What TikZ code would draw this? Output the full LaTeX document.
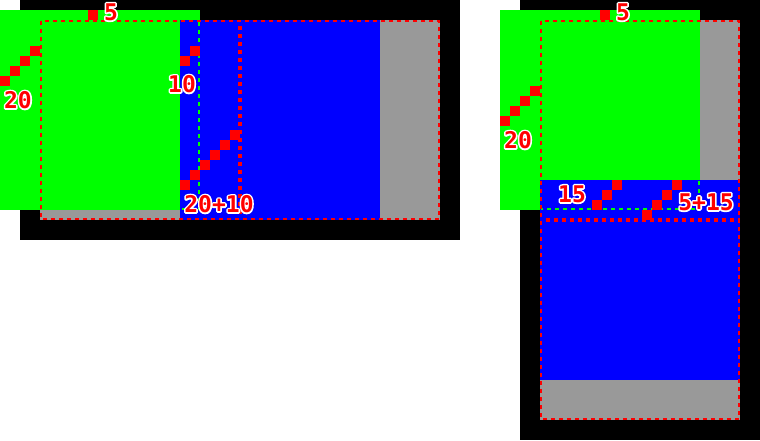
\documentclass[tikz,border=0pt]{standalone}
\usepackage{fontspec}
\newfontfamily\pixfont{DejaVu Sans Mono}
\definecolor{labred}{HTML}{FF0000}
\definecolor{boxgreen}{HTML}{00FF00}
\definecolor{boxblue}{HTML}{0000FF}
\definecolor{boxgray}{HTML}{999999}
\newcommand\strokeon{\special{pdf:literal direct 3.2 w 1 j 1 Tr}}
\newcommand\strokeoff{\special{pdf:literal direct 0 Tr}}
\tikzset{
  lbl/.style={text=labred, font=\pixfont\bfseries\fontsize{23}{23}\selectfont, inner sep=0pt},
  halo/.style={lbl, text=white},
  px/.style={fill=labred},
  border/.style={draw=labred, line width=2pt, dash pattern=on 4pt off 4pt},
  dotline/.style={draw=labred, line width=3.5pt, dash pattern=on 3.5pt off 4.5pt},
  hidden/.style={draw=boxgreen, line width=2pt, dash pattern=on 4pt off 4pt},
}
\newcommand\outlbl[3]{%
  \node[halo] (#1h) at (#2) {\strokeon#3\strokeoff};
  \node[lbl] (#1) at (#2) {#3};}
\begin{document}
\begin{tikzpicture}[x=1pt,y=-1pt]
\useasboundingbox (0,0) rectangle (760,440);
\fill[white] (0,0) rectangle (760,440);
% ---------- left diagram ----------
\fill[black] (20,0) rectangle (460,240);
\fill[boxgray] (40,20) rectangle (440,220);
\fill[boxgreen] (0,10) rectangle (200,210);
\fill[boxblue] (180,20) rectangle (380,220);
\draw[hidden] (199,22) -- (199,209) -- (181,209);
\draw[border] (41,21) rectangle (439,219);
\draw[dotline] (240,26) -- (240,216);
\foreach \x/\y in {0/76,10/66,20/56,30/46, 88/10, 180/56,190/46,
  180/180,190/170,200/160,210/150,220/140,230/130}
  {\fill[px] (\x,\y) rectangle ++(10,10);}
\outlbl{lA}{18,100}{20}
\outlbl{lB}{111,12}{5}
\outlbl{lC}{182,84}{10}
\outlbl{lD}{219,204}{20+10}
% ---------- right diagram ----------
\fill[black] (520,0) rectangle (760,440);
\fill[boxgray] (540,20) rectangle (740,420);
\fill[boxgreen] (500,10) rectangle (700,210);
\fill[boxblue] (540,180) rectangle (740,380);
\draw[hidden] (699,181) -- (699,209) -- (541,209);
\draw[border] (541,21) rectangle (739,419);
\draw[dotline] (546,220) -- (740,220);
\foreach \x/\y in {600/10, 500/116,510/106,520/96,530/86,
  592/200,602/190,612/180, 642/210,652/200,662/190,672/180}
  {\fill[px] (\x,\y) rectangle ++(10,10);}
\outlbl{rA}{623,12}{5}
\outlbl{rB}{518,140}{20}
\outlbl{rC}{572,194}{15}
\outlbl{rD}{706,202}{5+15}
\end{tikzpicture}
\end{document}
